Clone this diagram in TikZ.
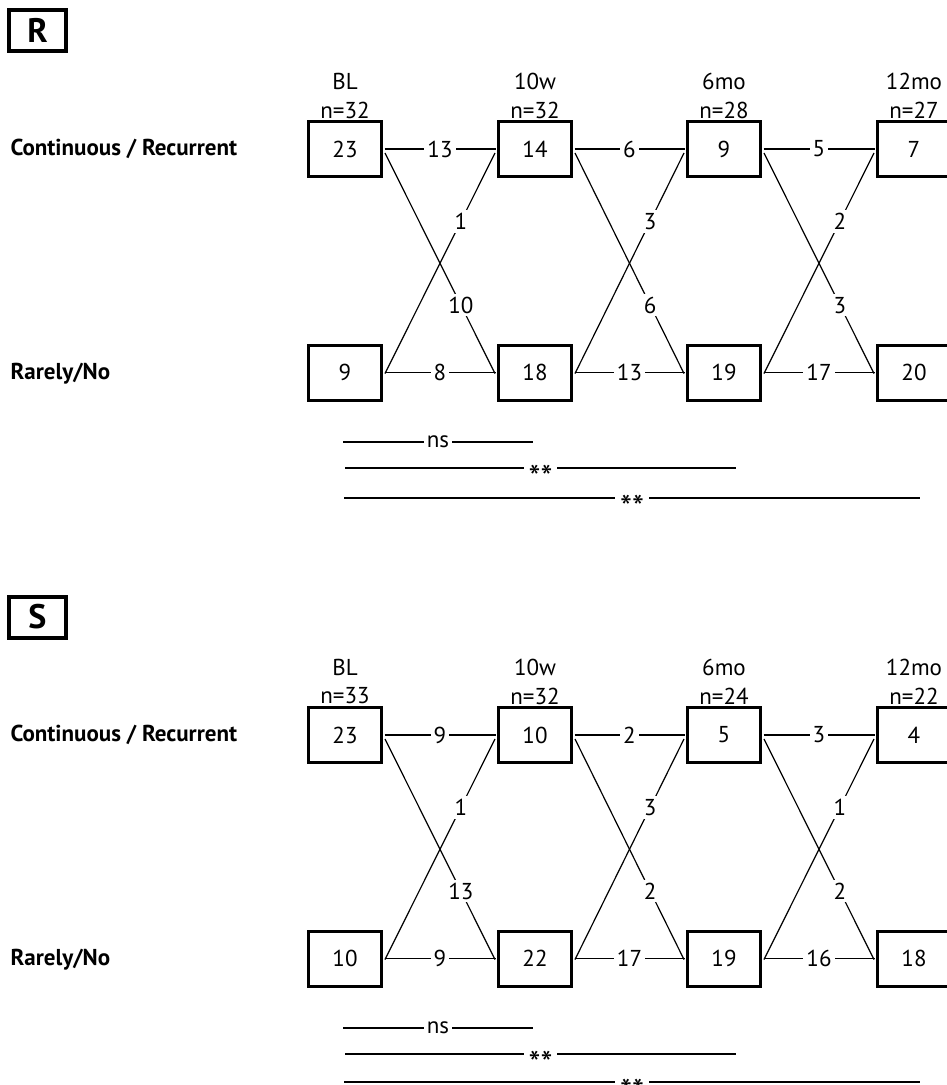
\documentclass[tikz,border=0pt]{standalone}
\usepackage{fontspec}
\setmainfont{PT Sans}
\usetikzlibrary{positioning}

\begin{document}
\begin{tikzpicture}[x=1pt,y=-1pt,
    every node/.style={font=\fontsize{23}{26}\selectfont},
    tpbox/.style={draw,line width=3pt,minimum width=73pt,minimum height=55pt,inner sep=0pt},
    panelbox/.style={draw,line width=4pt,minimum width=57pt,minimum height=41pt,inner sep=0pt,
                     font=\fontsize{34}{36}\selectfont\bfseries},
    rowlbl/.style={anchor=west,font=\fontsize{23}{26}\selectfont\bfseries},
    conn/.style={line width=1.2pt},
    lbl/.style={fill=white,inner sep=3pt},
    stars/.style={fill=white,inner xsep=5pt,inner ysep=1pt,yshift=-9pt,font=\fontsize{34}{36}\selectfont}]

  \useasboundingbox (0,0) rectangle (947,1085);
  \clip (0,0) rectangle (947,1085);

  % --- panel R ---
  \node[panelbox] (rtag) at (37.5,30.5) {R};
  \node[rowlbl] (rrowc) at (7,149) {Continuous / Recurrent};
  \node[rowlbl] (rrown) at (7,374) {Rarely/No};

  % time points
  \node (rh1) at (345,81) {BL};   \node (rm1) at (345,110) {n=32};
  \node (rh2) at (535,81) {10w};  \node (rm2) at (535,110) {n=32};
  \node (rh3) at (724,81) {6mo};  \node (rm3) at (724,110) {n=28};
  \node (rh4) at (914,81) {12mo}; \node (rm4) at (914,110) {n=27};

  % boxes
  \node[tpbox] (rc1) at (345,149) {23};
  \node[tpbox] (rc2) at (535,149) {14};
  \node[tpbox] (rc3) at (724,149) {9};
  \node[tpbox] (rc4) at (914,149) {7};
  \node[tpbox] (rn1) at (345,372.5) {9};
  \node[tpbox] (rn2) at (535,372.5) {18};
  \node[tpbox] (rn3) at (724,372.5) {19};
  \node[tpbox] (rn4) at (914,372.5) {20};

  % transitions
  \draw[conn] ([xshift=1.5pt]rc1.east) -- node[lbl,midway]{13} ([xshift=-1.5pt]rc2.west);
  \draw[conn] ([xshift=1.5pt]rc2.east) -- node[lbl,midway]{6} ([xshift=-1.5pt]rc3.west);
  \draw[conn] ([xshift=1.5pt]rc3.east) -- node[lbl,midway]{5} ([xshift=-1.5pt]rc4.west);
  \draw[conn] ([xshift=1.5pt]rn1.east) -- node[lbl,midway]{8} ([xshift=-1.5pt]rn2.west);
  \draw[conn] ([xshift=1.5pt]rn2.east) -- node[lbl,midway]{13} ([xshift=-1.5pt]rn3.west);
  \draw[conn] ([xshift=1.5pt]rn3.east) -- node[lbl,midway]{17} ([xshift=-1.5pt]rn4.west);
  \draw[conn] ([shift={(2pt,-4pt)}]rc1.east) -- node[lbl,pos=0.69]{10} ([shift={(-2pt,-1pt)}]rn2.west);
  \draw[conn] ([shift={(2pt,-1pt)}]rn1.east) -- node[lbl,pos=0.69]{1} ([shift={(-2pt,-4pt)}]rc2.west);
  \draw[conn] ([shift={(2pt,-4pt)}]rc2.east) -- node[lbl,pos=0.69]{6} ([shift={(-2pt,-1pt)}]rn3.west);
  \draw[conn] ([shift={(2pt,-1pt)}]rn2.east) -- node[lbl,pos=0.69]{3} ([shift={(-2pt,-4pt)}]rc3.west);
  \draw[conn] ([shift={(2pt,-4pt)}]rc3.east) -- node[lbl,pos=0.69]{3} ([shift={(-2pt,-1pt)}]rn4.west);
  \draw[conn] ([shift={(2pt,-1pt)}]rn3.east) -- node[lbl,pos=0.69]{2} ([shift={(-2pt,-4pt)}]rc4.west);

  % significance
  \coordinate (rs1a) at (343,442); \coordinate (rs1b) at (533,442);
  \coordinate (rs2a) at (345,468); \coordinate (rs2b) at (736,468);
  \coordinate (rs3a) at (344,498); \coordinate (rs3b) at (920,498);
  \draw[conn] (rs1a) -- node[lbl]{ns} (rs1b);
  \draw[conn] (rs2a) -- node[stars]{**} (rs2b);
  \draw[conn] (rs3a) -- node[stars]{**} (rs3b);

  % --- panel S ---
  \node[panelbox] (stag) at (37.5,617) {S};
  \node[rowlbl] (srowc) at (7,735) {Continuous / Recurrent};
  \node[rowlbl] (srown) at (7,960) {Rarely/No};

  % time points
  \node (sh1) at (345,667) {BL};   \node (sm1) at (345,696) {n=33};
  \node (sh2) at (535,667) {10w};  \node (sm2) at (535,696) {n=32};
  \node (sh3) at (724,667) {6mo};  \node (sm3) at (724,696) {n=24};
  \node (sh4) at (914,667) {12mo}; \node (sm4) at (914,696) {n=22};

  % boxes
  \node[tpbox] (sc1) at (345,735) {23};
  \node[tpbox] (sc2) at (535,735) {10};
  \node[tpbox] (sc3) at (724,735) {5};
  \node[tpbox] (sc4) at (914,735) {4};
  \node[tpbox] (sn1) at (345,958.5) {10};
  \node[tpbox] (sn2) at (535,958.5) {22};
  \node[tpbox] (sn3) at (724,958.5) {19};
  \node[tpbox] (sn4) at (914,958.5) {18};

  % transitions
  \draw[conn] ([xshift=1.5pt]sc1.east) -- node[lbl,midway]{9} ([xshift=-1.5pt]sc2.west);
  \draw[conn] ([xshift=1.5pt]sc2.east) -- node[lbl,midway]{2} ([xshift=-1.5pt]sc3.west);
  \draw[conn] ([xshift=1.5pt]sc3.east) -- node[lbl,midway]{3} ([xshift=-1.5pt]sc4.west);
  \draw[conn] ([xshift=1.5pt]sn1.east) -- node[lbl,midway]{9} ([xshift=-1.5pt]sn2.west);
  \draw[conn] ([xshift=1.5pt]sn2.east) -- node[lbl,midway]{17} ([xshift=-1.5pt]sn3.west);
  \draw[conn] ([xshift=1.5pt]sn3.east) -- node[lbl,midway]{16} ([xshift=-1.5pt]sn4.west);
  \draw[conn] ([shift={(2pt,-4pt)}]sc1.east) -- node[lbl,pos=0.69]{13} ([shift={(-2pt,-1pt)}]sn2.west);
  \draw[conn] ([shift={(2pt,-1pt)}]sn1.east) -- node[lbl,pos=0.69]{1} ([shift={(-2pt,-4pt)}]sc2.west);
  \draw[conn] ([shift={(2pt,-4pt)}]sc2.east) -- node[lbl,pos=0.69]{2} ([shift={(-2pt,-1pt)}]sn3.west);
  \draw[conn] ([shift={(2pt,-1pt)}]sn2.east) -- node[lbl,pos=0.69]{3} ([shift={(-2pt,-4pt)}]sc3.west);
  \draw[conn] ([shift={(2pt,-4pt)}]sc3.east) -- node[lbl,pos=0.69]{2} ([shift={(-2pt,-1pt)}]sn4.west);
  \draw[conn] ([shift={(2pt,-1pt)}]sn3.east) -- node[lbl,pos=0.69]{1} ([shift={(-2pt,-4pt)}]sc4.west);

  % significance
  \coordinate (ss1a) at (343,1028); \coordinate (ss1b) at (533,1028);
  \coordinate (ss2a) at (345,1054); \coordinate (ss2b) at (736,1054);
  \coordinate (ss3a) at (344,1082); \coordinate (ss3b) at (920,1082);
  \draw[conn] (ss1a) -- node[lbl]{ns} (ss1b);
  \draw[conn] (ss2a) -- node[stars]{**} (ss2b);
  \draw[conn] (ss3a) -- node[stars]{**} (ss3b);

\end{tikzpicture}
\end{document}
